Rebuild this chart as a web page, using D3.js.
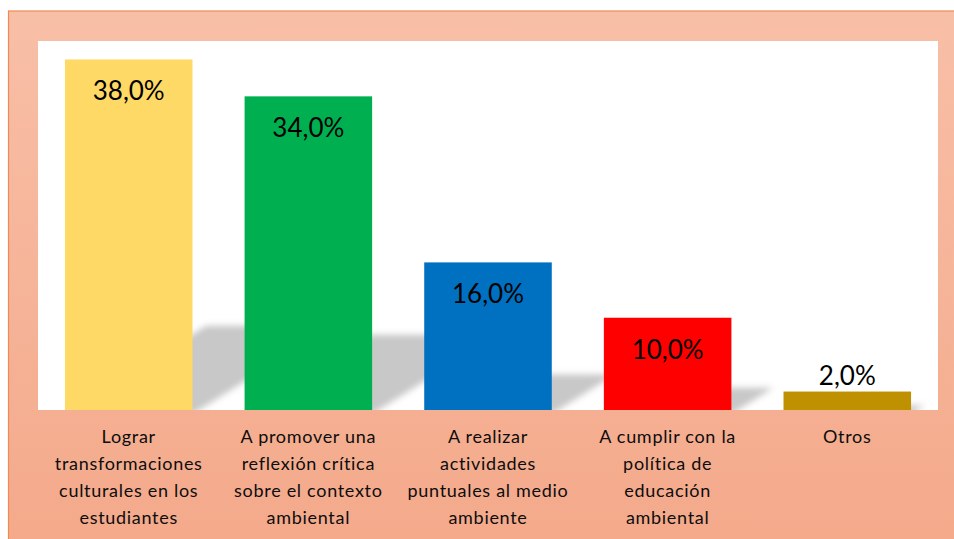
<!DOCTYPE html>
<html><head><meta charset="utf-8">
<script src="https://cdn.jsdelivr.net/npm/d3@7"></script>
<style>html,body{margin:0;padding:0;background:#fff;overflow:hidden}</style>
</head><body>
<svg id="chart" width="954" height="539"></svg>
<script>
const categories = [
  ["Lograr","transformaciones","culturales en los","estudiantes"],
  ["A promover una","reflexión crítica","sobre el contexto","ambiental"],
  ["A realizar","actividades","puntuales al medio","ambiente"],
  ["A cumplir con la","política de","educación","ambiental"],
  ["Otros"]
];
const values = [38.0, 34.0, 16.0, 10.0, 2.0];
const valueLabels = ["38,0%","34,0%","16,0%","10,0%","2,0%"];
const barColors = ["#FFD966","#00B050","#0070C0","#FF0000","#BF9000"];

const W = 954, H = 539;
const plot = {x0: 38, x1: 938, y0: 41, y1: 410};
const svg = d3.select("#chart");
const defs = svg.append("defs");
const grad = defs.append("linearGradient").attr("id","bg").attr("x1",0).attr("y1",0).attr("x2",0).attr("y2",1);
grad.append("stop").attr("offset","0%").attr("stop-color","#F8BFA7");
grad.append("stop").attr("offset","100%").attr("stop-color","#F4A98A");
defs.append("filter").attr("id","blur").attr("x","-20%").attr("y","-40%").attr("width","140%").attr("height","180%")
  .append("feGaussianBlur").attr("stdDeviation",3);
defs.append("clipPath").attr("id","plotclip").append("rect")
  .attr("x",plot.x0).attr("y",plot.y0).attr("width",plot.x1-plot.x0).attr("height",plot.y1-plot.y0);

svg.append("rect").attr("x",8.5).attr("y",11).attr("width",W).attr("height",H)
  .attr("fill","url(#bg)").attr("stroke","#EE8A52").attr("stroke-width",1.2);
svg.append("rect").attr("x",plot.x0).attr("y",plot.y0).attr("width",plot.x1-plot.x0).attr("height",plot.y1-plot.y0).attr("fill","#fff");

const idx = d3.range(values.length);
const x = d3.scaleBand().domain(idx).range([plot.x0, plot.x1]).paddingInner(0.29).paddingOuter(0.15);
const y = d3.scaleLinear().domain([0, 40]).range([plot.y1, plot.y0]);

// perspective shadows
const gS = svg.append("g").attr("clip-path","url(#plotclip)").append("g").attr("filter","url(#blur)");
idx.forEach(i => {
  const xl = x(i), xr = x(i) + x.bandwidth();
  const base = y(0) + 4;
  const rise = (y(0) - y(values[i])) * 0.24 + 4;
  const dx = rise * 1.6;
  gS.append("polygon")
    .attr("points", [[xl,base],[xr,base],[xr+dx,base-rise],[xl+dx,base-rise]].map(p=>p.join(",")).join(" "))
    .attr("fill","#c8c8c8");
});

svg.append("g").selectAll("rect").data(idx).join("rect")
  .attr("x", i => x(i)).attr("width", x.bandwidth())
  .attr("y", i => y(values[i])).attr("height", i => y(0) - y(values[i]))
  .attr("fill", i => barColors[i]);

svg.append("g").selectAll("text").data(idx).join("text")
  .attr("x", i => x(i) + x.bandwidth()/2)
  .attr("y", i => values[i] > 5 ? y(values[i]) + 41 : y(values[i]) - 7)
  .attr("text-anchor","middle")
  .attr("font-family","Lato, 'Open Sans', sans-serif")
  .attr("font-size", 26)
  .attr("fill","#000")
  .text(i => valueLabels[i]);

const gL = svg.append("g");
idx.forEach(i => {
  categories[i].forEach((line, k) => {
    gL.append("text")
      .attr("x", x(i) + x.bandwidth()/2)
      .attr("y", 443 + k*27)
      .attr("text-anchor","middle")
      .attr("font-family","Lato, 'Open Sans', sans-serif")
      .attr("font-size", 18)
      .attr("letter-spacing", 0.7)
      .attr("fill","#0d0d0d")
      .text(line);
  });
});
</script>
</body></html>
